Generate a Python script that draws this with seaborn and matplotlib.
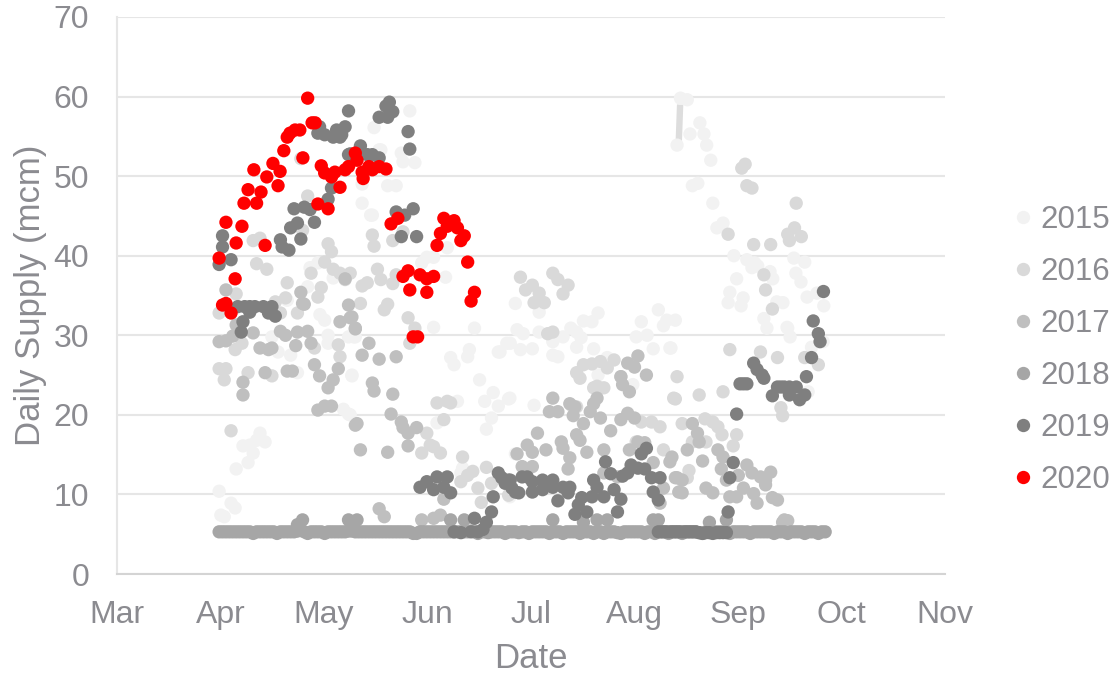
import numpy as np
import pandas as pd
import matplotlib
matplotlib.use('Agg')
import matplotlib.pyplot as plt
import seaborn as sns

# ===== DATA : (days since 1 March, daily supply in mcm) =====
month_labels = ['Mar', 'Apr', 'May', 'Jun', 'Jul', 'Aug', 'Sep', 'Oct', 'Nov']
y_ticks = [0, 10, 20, 30, 40, 50, 60, 70]
years = ['2015', '2016', '2017', '2018', '2019', '2020']
colors = ['#F2F2F2', '#D9D9D9', '#BFBFBF', '#A6A6A6', '#7F7F7F', '#FF0000']

points_2015 = [
    (30, 10.4), (33.5, 8.9), (34.7, 8.3), (30.5, 7.4), (31.5, 7.2), (37, 16.1), (39, 16.2), (42, 17.7), (43.5, 16.6),
    (41, 16.8), (40, 15.2), (38.5, 14), (35, 13.2), (47.3, 27.9), (51, 27.5), (53, 25.3), (62, 30), (62, 29), (69, 24.9),
    (66.5, 20.7), (68, 20.1), (59.6, 32.6), (61, 31.9), (69.5, 29.8), (45.5, 29.8), (56.7, 38.5), (59, 39.1), (63.5, 37.2),
    (56, 36.1), (50, 34.4), (72, 46.6), (74.5, 45.1), (75, 45.1), (79.5, 48.8), (82, 48.8), (72, 49), (77, 53.3),
    (86, 58.2), (75.5, 56.1), (77.5, 53.3), (83.5, 52.9), (84, 51.8), (87.5, 51.7), (91, 39.8), (93, 39.8), (89.5, 39.1),
    (96.5, 37.3), (93, 31), (105, 30.9), (97, 41), (98, 27.2), (99, 26.3), (103.5, 28.2), (103, 27.3), (106.5, 24.4),
    (112.5, 27.9), (114.5, 29), (118.5, 28.2), (112, 27.9), (68, 29.8), (70, 29.8), (108, 21.7), (110.5, 22.8), (112, 21.1),
    (115, 22), (110, 19.6), (108.5, 18.2), (100, 21.7), (94, 19), (69, 25), (68.5, 20), (101.5, 13.3), (101, 12.7), (117, 15.1),
    (117, 34), (124, 32.9), (117.5, 30.7), (119.3, 30.2), (115.5, 29), (122, 28.3), (124, 30.4), (128, 29.2), (128, 27.5),
    (129.5, 27.3), (131, 29.8), (133.3, 30.9), (135, 30.4), (135, 28.5), (136.3, 29.7), (137, 31.8), (139.5, 31.7),
    (141.3, 32.8), (140, 28.3), (154, 31.7), (152.5, 29.8), (155.7, 30), (157.5, 28.3), (159, 33.2), (160.5, 31.2),
    (161.5, 31.9), (164, 31.9), (162.7, 28.4), (115.4, 22.1), (122.5, 21.2), (141.3, 25), (144, 27.2), (151.5, 23.8), (115.4, 9.7),
    (165.5, 59.8), (167.5, 59.6), (164.5, 53.9), (168.3, 55.3), (171.2, 56.7), (172.4, 55.3), (173.2, 53.9), (174.4, 52),
    (169, 48.8), (170.6, 49.1), (175, 46.6), (178, 44.1), (176.2, 43.5), (181.2, 40), (185, 39.5), (186.5, 38.5), (188.2, 38.7),
    (187.3, 39.1), (191.8, 38), (192.6, 37.1), (182, 37.1), (180, 35.4), (179.5, 34.1), (183.9, 34.7), (183.3, 33.7),
    (193.8, 34.2), (195.6, 34.1), (190, 32.1), (196.8, 31), (198.8, 39.7), (202, 39.2), (199.4, 37.8), (200.9, 36.7),
    (202.7, 34.8), (205.6, 35.3), (207.6, 33.7), (190.9, 30.9), (162.4, 28.4), (197, 30.9), (197.7, 29.8), (204, 28.5),
    (207.4, 29.2), (203, 22.9),
]

points_2016 = [
    (40, 41.9), (42, 42.2), (41, 39), (44, 38.3), (56, 47.5), (54, 52.2), (54.5, 43.2), (62, 41.5), (63, 40.5), (61, 39.2),
    (57, 37.8), (63.5, 38.3), (50, 36.6), (60, 36), (59, 34.8), (49.5, 34.7), (35, 35.2), (53, 32.8), (30, 32.8), (46.5, 34.2),
    (30, 25.8), (32, 25.8), (31.5, 24.4), (38.5, 25.3), (45.5, 24.9), (33.5, 18), (34.7, 28.2), (36.7, 29), (48, 32.8),
    (65, 28.8), (65.5, 27.3), (58, 28.4), (75, 42.6), (75.5, 41.2), (81, 41.9), (84, 43), (76.5, 38.3), (77.5, 37),
    (81, 36.5), (82, 37.6), (72, 36.2), (73.5, 36.6), (71.5, 34), (78.5, 33.2), (79.5, 33.9), (85.5, 32.2), (87.5, 30.9),
    (86, 29), (68.5, 37.8), (65.5, 37.8), (67, 37), (94, 21.5), (97, 21.7), (98, 21.5), (96, 19.4), (91, 17.7), (92, 16.2),
    (89.5, 15.2), (95, 15.2), (93, 16), (101.5, 14.7), (101, 11.6), (103, 12.4), (104.5, 12.9), (108.5, 13.4), (106, 10.8),
    (107, 9), (110, 11.4), (115, 9.9), (118.5, 37.3), (122, 36.3), (120, 35.7), (124, 35.3), (122.5, 34.1), (125.5, 34.1),
    (128, 37.8), (129.5, 37), (132.5, 36.3), (131, 35.2), (126.5, 30.2), (128, 30.4), (135, 25.3), (137, 26.3), (136, 24.6),
    (139.5, 26.4), (142, 26.7), (144, 25.9), (146, 26.9), (148, 24.8), (140, 23.4), (141, 23.6), (143, 23.4), (133.5, 21.2),
    (135, 21), (154, 19.1), (157, 19.1), (159.5, 18.5), (152.5, 16.6), (160.5, 15.6), (164.5, 24.8), (163.5, 22.1),
    (183.5, 51), (184.5, 51.5), (185, 48.8), (186.5, 48.5), (199.5, 46.6), (179.5, 42.7), (187, 41.4), (192, 41.4), (199, 43.5),
    (197, 42.7), (201, 42.4), (197.5, 41.9), (190, 37.6), (190.5, 35.7), (192.5, 33.3), (180, 28.2), (189, 27.9), (194, 27.2),
    (202, 27.2), (206, 26.3), (195, 20.9), (195.5, 19.9), (164, 22), (171, 22.5), (178, 22.9), (172.7, 19.5), (175, 19.1),
    (176.5, 18.5), (177.7, 17.5), (182, 17.5), (181, 16.1), (166, 18.9), (169, 16.6), (173, 16.6), (168, 13), (167.5, 12.1),
]
# the short thick segment in mid August
segment_days = [165.4, 165.0]
segment_supply = [59.0, 54.3]

points_2017 = [
    (30, 29.2), (32, 29.3), (34, 29.9), (35, 31.3), (40, 30.3), (37, 24.1), (37, 22.5), (43.5, 25.3), (50, 25.5), (51.5, 25.5),
    (42, 28.4), (44.5, 28.2), (45.5, 28.4), (48, 30.5), (49.5, 30), (52.5, 28.7), (53, 30.4), (56, 30.5), (57, 29), (58, 26.3),
    (59.5, 24.9), (62, 23.4), (63.5, 24.4), (65, 25.8), (59, 20.6), (61, 21.1), (63, 21.1), (65.5, 31.7), (69, 32.3), (70, 30.8),
    (68, 33.8), (70, 18.7), (71.5, 15.6), (55, 33.9), (32, 35.7), (54, 35.4), (54.5, 34), (67, 37.1), (68.5, 32.2), (70, 30.9),
    (74, 29), (72, 27.5), (77, 27), (82, 27.3), (75, 24), (75.5, 23), (81, 22.6), (80.5, 20.1), (70.5, 18.9), (79.5, 15.3),
    (83.5, 19.1), (84, 18.4), (85.5, 17.7), (88, 18.4), (85.5, 16.1), (96, 9.4), (77, 8.2), (78.5, 7.2), (89.5, 6.8), (93, 7),
    (95, 7.4), (119, 13.5), (122, 13.5), (120.5, 16.2), (122, 15.3), (117.5, 15.1), (123.5, 17.7), (126, 15.6), (128, 22.1),
    (127, 20.4), (129.5, 20.4), (130.5, 16.6), (131, 15.8), (133, 14.6), (132.5, 13.2), (133, 21.4), (134.5, 21), (134, 19.9),
    (137, 18.9), (135, 17.5), (136, 16.8), (138, 15.3), (139, 20.4), (140, 21.4), (141, 22.1), (142, 19.6), (143, 15.6), (145, 18),
    (143, 12.7), (147, 12.2), (148, 19.4), (150, 20.2), (148.5, 23.8), (150.5, 22.9), (152, 19.6), (153, 16.6), (150.5, 15.6),
    (155, 16.5), (157.5, 14), (160.5, 10.8), (159.5, 8.9), (162.4, 14.1), (163, 14.7), (164, 12.1), (165, 10.3), (150, 26.5),
    (152, 26), (155.5, 25), (153, 27.4), (148, 24.8), (167.5, 15.6), (172, 14.2), (176.5, 15.6), (178, 14.7), (177.5, 13.2),
    (169, 18.9), (170.5, 17.7), (171, 16.6), (164.5, 12.1), (166, 11.8), (166, 10.2), (173, 10.8), (175, 10.2), (180, 9.7),
    (182, 9.7), (179, 11.8), (182.5, 12.4), (184, 10.8), (185, 13.7), (186.5, 12.7), (187, 10.1), (188, 8.9), (189, 12.2),
    (190.5, 11.2), (190.5, 11.8), (192, 12.8), (192.5, 9.6), (194, 9.3), (195.5, 6.5), (196, 6.8), (197, 6.7),
]

points_2018 = [
    (54.5, 6.8), (53, 6.2), (68, 6.8), (70.5, 6.8), (98, 6.8), (102, 6.8), (128, 6.8), (137, 6.5), (141, 6.8), (144, 6.8),
    (157.5, 6.8), (159, 6.8), (174, 6.5), (179, 6.8),
]
# one value per day from day 30
supply_2018_daily = [
    5.3, 5.3, 5.3, 5.3, 5.3, 5.3, 5.3, 5.3, 5.3, 5.3,
    5.1, 5.3, 5.3, 5.3, 5.3, 5.3, 5.3, 5.1, 5.3, 5.3,
    5.3, 5.3, 5.3, 5.4, 5.5, 5.3, 5.1, 5.3, 5.3, 5.3,
    5.3, 5.1, 5.3, 5.3, 5.3, 5.3, 5.3, 5.3, 5.4, 5.4,
    5.3, 5.3, 5.3, 5.3, 5.3, 5.3, 5.3, 5.3, 5.3, 5.3,
    5.3, 5.3, 5.3, 5.3, 5.3, 5.3, 5.3, 5.1, 5.1, 5.3,
    5.3, 5.3, 5.3, 5.3, 5.3, 5.3, 5.3, 5.3, 5.3, 5.3,
    5.3, 5.3, 5.3, 5.3, 5.4, 5.3, 5.1, 5.3, 5.3, 5.2,
    5.3, 5.3, 5.3, 5.3, 5.1, 5.3, 5.3, 5.3, 5.2, 5.3,
    5.3, 5.1, 5.3, 5.3, 5.3, 5.3, 5.3, 5.1, 5.3, 5.3,
    5.3, 5.1, 5.3, 5.3, 5.3, 5.3, 5.1, 5.3, 5.3, 5.3,
    5.1, 5.3, 5.3, 5.1, 5.3, 5.3, 5.3, 5.2, 5.1, 5.3,
    5.3, 5.3, 5.3, 5.3, 5.3, 5.1, 5.3, 5.3, 5.1, 5.3,
    5.3, 5.3, 5.1, 5.3, 5.3, 5.3, 5.1, 5.3, 5.3, 5.3,
    5.3, 5.2, 5.1, 5.3, 5.3, 5.3, 5.3, 5.3, 5.3, 5.3,
    5.1, 5.3, 5.3, 5.3, 5.3, 5.3, 5.1, 5.3, 5.3, 5.3,
    5.3, 5.3, 5.3, 5.1, 5.3, 5.3, 5.3, 5.1, 5.3, 5.3,
    5.3, 5.3, 5.1, 5.3, 5.3, 5.3, 5.1, 5.3, 5.3,
]

points_2019 = [
    (31, 42.5), (31, 41.1), (30, 38.9), (33.5, 39.5), (35.5, 33.6), (39, 33.6), (40.5, 33.6), (43, 33.6), (45.5, 33.6),
    (44.5, 32.8), (46.5, 32.4), (39, 32.9), (37, 31.7), (36.5, 30.4), (37.5, 33.6), (48, 42), (50.5, 40.7), (48.5, 41.1),
    (51, 43.5), (53, 44.1), (52, 45.9), (55, 46.1), (56.7, 45.8), (58, 44.2), (54, 42.1), (62, 47.1), (63, 48.5),
    (59.5, 56.2), (59, 55.4), (61, 55.2), (63.5, 54.9), (65.5, 54.9), (64.5, 55.8), (67, 56.2), (68, 58.2), (66, 55.2),
    (68, 52.7), (71.5, 53.8), (68.5, 52.8), (73.5, 52.7), (75, 52.7), (77, 52.3), (80, 59.3), (79, 58.8), (81, 58.1),
    (79.5, 57.4), (77, 57.4), (85.5, 55.6), (86, 53.4), (82, 45.5), (84.5, 45.1), (87, 45.9), (83.5, 42.4), (88, 42.4),
    (89, 10.9), (91, 11.6), (93, 10.6), (94, 12.2), (97, 12.2), (96, 10.9), (98, 10.2), (105, 7), (99, 5.3), (101, 5.2),
    (104, 5.3), (106, 5.3), (107.5, 5.6), (108.5, 6.5), (110, 7.8), (110.5, 9.7), (112, 12.7), (113, 12.1), (115, 11.8),
    (114, 11.4), (116, 10.8), (118, 10.2), (115.5, 11.8), (117, 10.3), (119, 12.2), (120.5, 12.2), (122, 10.3), (122, 11.6),
    (125, 11.8), (125, 10.6), (128, 11.8), (128, 10.9), (131, 10.9), (133, 10.9), (132.5, 10.2), (129.5, 9.2), (136.5, 9.6),
    (135.5, 8.7), (134.5, 7.5), (138, 7.8), (139.5, 9.7), (140, 11.8), (141, 10.9), (143, 9.7), (143.5, 14.1), (145, 12.6),
    (146, 10.6), (148, 9.4), (147, 7.8), (148.5, 12.3), (150, 12.7), (151, 13.7), (153, 13.3), (155, 13.2), (157, 12.1),
    (159.5, 12.1), (154, 15.1), (155.5, 15.8), (157.5, 10.3), (159, 9.3), (159, 5.3), (160, 5.3), (161, 5.3), (162, 5.3),
    (163, 5.3), (164, 5.3), (165, 5.3), (166, 5.3), (167, 5.3), (168, 5.3), (169, 5.3), (170, 5.3), (171, 5.2), (172, 5.1),
    (173, 5.2), (174, 5.2), (175, 5.1), (176, 5.2), (177, 5.2), (178, 5.2), (179, 5.2), (179.5, 7.8), (180, 12.1), (181, 14),
    (182, 20.1), (183, 23.9), (184, 23.9), (185, 23.9), (187, 26.5), (188, 25.7), (190, 24.6), (189.5, 25), (192.5, 22.4),
    (194, 23.5), (195, 23.5), (196, 23.5), (197.5, 23.5), (199.5, 23.5), (197.5, 22.5), (200.5, 21.9), (202, 22.5),
    (202.5, 24.8), (204, 27.2), (206.5, 29.2), (206, 30.2), (204.5, 31.8), (207.5, 35.5),
]

points_2020 = [
    (30, 39.7), (31, 33.8), (32, 34), (32, 44.2), (33.5, 32.8), (34.7, 37.1), (35, 41.6), (36.7, 43.7), (37.3, 46.6),
    (38.5, 48.3), (40.2, 50.8), (41, 46.6), (42.3, 48), (43.5, 41.3), (44, 49.9), (45.8, 51.6), (47.3, 48.8), (47.9, 50.6),
    (49, 53.2), (50, 54.9), (50.8, 55.4), (52.3, 55.8), (53.7, 55.8), (54.6, 52.3), (56, 59.8), (57.3, 56.7), (58.2, 56.7),
    (60, 51.3), (61, 50.4), (63, 49.9), (65.5, 48.6), (59, 46.5), (62, 45.9), (64, 50.5), (67, 50.8), (68, 51.2), (70, 52.9),
    (70.5, 52), (72, 50.5), (72.3, 49.7), (74, 51.2), (75, 50.8), (77, 51.2), (79, 50.9), (80.5, 44), (82.5, 44.7), (84, 37.4),
    (85.5, 38.1), (86, 35.7), (89, 37.6), (91, 37.1), (91, 35.4), (93, 37.4), (87, 29.8), (88.3, 29.8), (94, 41.3), (95, 42.8),
    (96, 44.7), (97, 43.7), (99, 44.4), (100, 43.5), (101, 41.9), (102, 42.5), (103, 39.2), (104, 34.3), (105, 35.4),
]

tick_spacing = 30.4
all_points = [points_2015, points_2016, points_2017, points_2018, points_2019, points_2020]

# ===== TABLE =====
frames = []
for year, pts in zip(years, all_points):
    frames.append(pd.DataFrame(pts, columns=['day', 'supply']).assign(year=year))
    if year == '2018':
        frames.append(pd.DataFrame({'day': np.arange(30, 30 + len(supply_2018_daily)),
                                    'supply': supply_2018_daily, 'year': year}))
df = pd.concat(frames, ignore_index=True)

# ===== GRAPHIQUE =====
sns.set_style('white')
plt.rcParams['font.family'] = ['Liberation Sans', 'DejaVu Sans']
text_color = '#8B8B90'
grid_color = '#E6E6E6'

fig = plt.figure(figsize=(11.13, 6.75), dpi=100)
ax = fig.add_axes([117 / 1113, 1 - 574 / 675, (945 - 117) / 1113, (574 - 17) / 675])

ax.plot(segment_days, segment_supply, color='#DDDDDD', lw=4.6, solid_capstyle='butt', zorder=2)
sns.scatterplot(data=df, x='day', y='supply', hue='year', hue_order=years, palette=colors,
                s=92, linewidth=0, alpha=1, ax=ax, zorder=3, clip_on=False)

ax.set_xlim(0, tick_spacing * 8)
ax.set_ylim(0, 70)
ax.set_xticks([tick_spacing * i for i in range(len(month_labels))])
ax.set_xticklabels(month_labels)
ax.set_yticks(y_ticks)
ax.tick_params(axis='both', length=0, labelsize=23, labelcolor=text_color)
ax.tick_params(axis='x', pad=19)
ax.tick_params(axis='y', pad=20)
ax.yaxis.grid(True, color=grid_color, lw=1.5)
ax.set_axisbelow(True)

for side in ['top', 'right']:
    ax.spines[side].set_visible(False)
ax.spines['left'].set_color(grid_color)
ax.spines['left'].set_linewidth(1.5)
ax.spines['bottom'].set_color('#D4D4D4')
ax.spines['bottom'].set_linewidth(1.5)

ax.set_xlabel('Date', fontsize=25, color=text_color, labelpad=8)
ax.set_ylabel('Daily Supply (mcm)', fontsize=25, color=text_color, labelpad=5)

handles, labels = ax.get_legend_handles_labels()
leg = ax.legend(handles, labels, loc='center left', bbox_to_anchor=(1009 / 1113, 1 - 350 / 675),
                bbox_transform=fig.transFigure, frameon=False, fontsize=22.5, labelcolor=text_color,
                labelspacing=0.70, handlelength=0.9, handletextpad=0.1, borderpad=0, borderaxespad=0)

plt.savefig('out.png', dpi=100)
